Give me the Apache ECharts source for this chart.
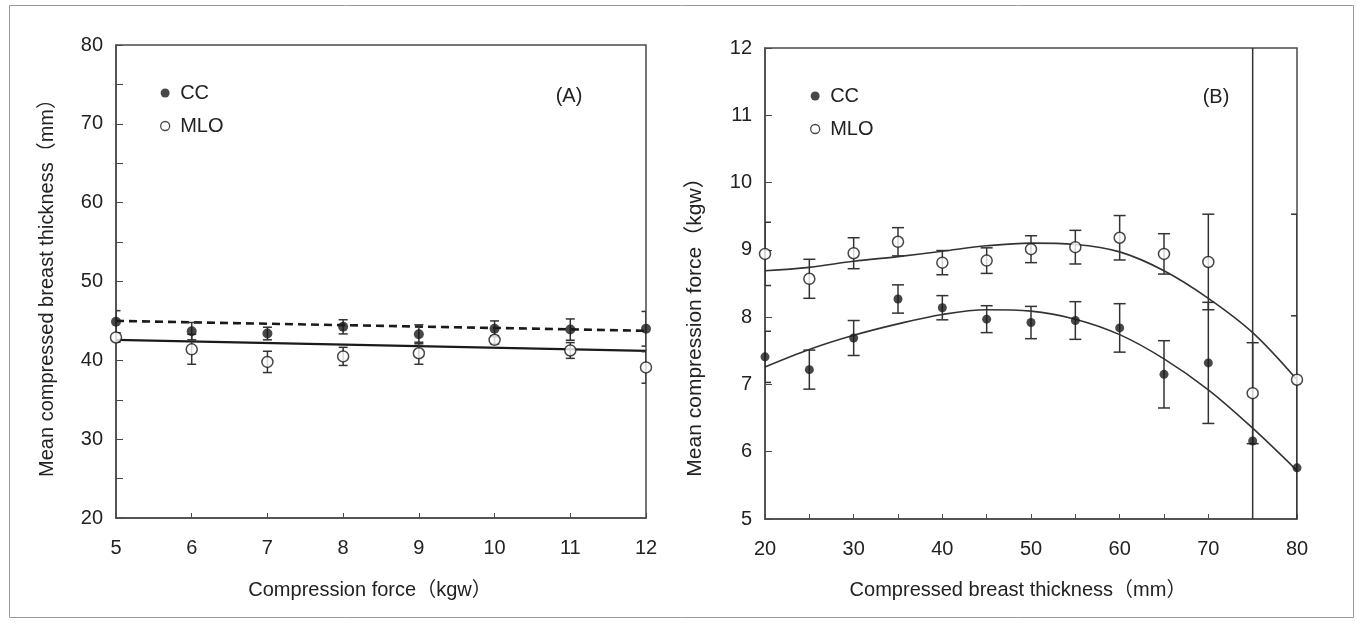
<!DOCTYPE html>
<html>
<head>
<meta charset="utf-8">
<script src="https://cdn.jsdelivr.net/npm/echarts@6/dist/echarts.min.js"></script>
<style>
html,body{margin:0;padding:0;background:#fff;}
#chart{width:1358px;height:624px;}
</style>
</head>
<body>
<div id="chart"></div>
<script>
// ---------- Panel A data ----------
var forceX = [5, 6, 7, 8, 9, 10, 11, 12];
var ccThickMean = [44.9, 43.7, 43.4, 44.25, 43.3, 44.0, 43.9, 44.0];
var ccThickSd = [1.4, 1.1, 0.8, 0.9, 1.2, 1.0, 1.35, 2.2];
var mloThickMean = [42.9, 41.4, 39.8, 40.5, 40.9, 42.6, 41.25, 39.1];
var mloThickSd = [0.6, 1.9, 1.35, 1.15, 1.4, 0.5, 1.0, 2.0];
var fitForceX = [5, 12];
var ccThickFit = [45.0, 43.75];
var mloThickFit = [42.6, 41.2];
var yTicksA = [20, 30, 40, 50, 60, 70, 80];
var xTicksA = [5, 6, 7, 8, 9, 10, 11, 12];

// ---------- Panel B data ----------
var thickX = [20, 25, 30, 35, 40, 45, 50, 55, 60, 65, 70, 75, 80];
var ccForceMean = [7.41, 7.22, 7.69, 8.27, 8.14, 7.97, 7.92, 7.95, 7.84, 7.15, 7.32, 6.16, 5.76];
var ccForceSd = [0.38, 0.29, 0.26, 0.21, 0.18, 0.2, 0.24, 0.28, 0.36, 0.5, 0.9, 7.0, 2.26];
var mloForceMean = [8.94, 8.57, 8.95, 9.12, 8.81, 8.84, 9.01, 9.04, 9.18, 8.94, 8.82, 6.87, 7.07];
var mloForceSd = [0.47, 0.29, 0.23, 0.21, 0.18, 0.19, 0.2, 0.25, 0.33, 0.3, 0.71, 0.75, 2.46];
var ccForceCurve = [7.26, 7.52, 7.73, 7.90, 8.04, 8.11, 8.09, 7.97, 7.74, 7.38, 6.92, 6.35, 5.72];
var mloForceCurve = [8.69, 8.74, 8.83, 8.90, 8.98, 9.06, 9.10, 9.08, 8.97, 8.69, 8.28, 7.77, 7.07];
var yTicksB = [5, 6, 7, 8, 9, 10, 11, 12];
var xTicksB = [20, 30, 40, 50, 60, 70, 80];

var FONT = "'Liberation Sans', 'Noto Sans CJK JP', Arial, sans-serif";
var INK = '#1a1a1a';
var AXC = '#4a4a4a';

function zip(xs, ys) { return xs.map(function (x, i) { return [x, ys[i]]; }); }
function zip3(xs, ys, es) { return xs.map(function (x, i) { return [x, ys[i], es[i]]; }); }

function errRender(cap) {
  return function (params, api) {
    var x = api.value(0), y = api.value(1), e = api.value(2);
    var hi = api.coord([x, y + e]);
    var lo = api.coord([x, y - e]);
    var st = { stroke: '#333', lineWidth: 1.5 };
    return {
      type: 'group',
      children: [
        { type: 'line', shape: { x1: hi[0], y1: hi[1], x2: lo[0], y2: lo[1] }, style: st },
        { type: 'line', shape: { x1: hi[0] - cap, y1: hi[1], x2: hi[0] + cap, y2: hi[1] }, style: st },
        { type: 'line', shape: { x1: lo[0] - cap, y1: lo[1], x2: lo[0] + cap, y2: lo[1] }, style: st }
      ]
    };
  };
}

function makeX(idx, min, max, interval, labels) {
  return {
    type: 'value', gridIndex: idx, min: min, max: max, interval: interval,
    axisLine: { show: true, onZero: false, lineStyle: { color: AXC, width: 1.5 } },
    axisTick: { show: true, inside: true, length: 5, lineStyle: { color: AXC, width: 1 } },
    axisLabel: {
      fontSize: 20, color: '#222', fontFamily: FONT, margin: 20,
      formatter: function (v) { return labels.indexOf(v) >= 0 ? String(v) : ''; }
    },
    splitLine: { show: false }
  };
}
function makeY(idx, min, max, interval, labels) {
  return {
    type: 'value', gridIndex: idx, min: min, max: max, interval: interval,
    axisLine: { show: true, onZero: false, lineStyle: { color: AXC, width: 1.5 } },
    axisTick: { show: true, inside: true, length: 7, lineStyle: { color: AXC, width: 1 } },
    axisLabel: {
      fontSize: 20, color: '#222', fontFamily: FONT, margin: 13,
      formatter: function (v) { return labels.indexOf(v) >= 0 ? String(v) : ''; }
    },
    splitLine: { show: false }
  };
}

var chart = echarts.init(document.getElementById('chart'), null, { renderer: 'canvas' });

var legendCommon = {
  orient: 'vertical', itemWidth: 20, itemHeight: 9, itemGap: 13,
  icon: 'circle', selectedMode: false,
  textStyle: { fontSize: 20, color: '#222', fontFamily: FONT },
  data: [
    { name: 'CC', icon: 'circle', itemStyle: { color: INK, borderWidth: 0 } },
    { name: 'MLO', icon: 'circle', itemStyle: { color: '#fff', borderColor: INK, borderWidth: 1.3 } }
  ]
};

var option = {
  backgroundColor: '#fff',
  animation: false,
  grid: [
    { left: 116, top: 45, width: 530, height: 473, show: true, borderColor: AXC, borderWidth: 1.5, backgroundColor: 'transparent' },
    { left: 765, top: 48, width: 532, height: 471, show: true, borderColor: AXC, borderWidth: 1.5, backgroundColor: 'transparent' }
  ],
  legend: [
    Object.assign({ left: 155, top: 78 }, legendCommon),
    Object.assign({ left: 805, top: 81 }, legendCommon)
  ],
  xAxis: [makeX(0, 5, 12, 1, xTicksA), makeX(1, 20, 80, 5, xTicksB)],
  yAxis: [makeY(0, 20, 80, 5, yTicksA), makeY(1, 5, 12, 1, yTicksB)],
  series: [
    // Panel A
    { type: 'line', name: 'CC fit', xAxisIndex: 0, yAxisIndex: 0, data: zip(fitForceX, ccThickFit), symbol: 'none',
      lineStyle: { color: INK, width: 2.6, type: [8, 5] }, z: 3, silent: true },
    { type: 'line', name: 'MLO fit', xAxisIndex: 0, yAxisIndex: 0, data: zip(fitForceX, mloThickFit), symbol: 'none',
      lineStyle: { color: INK, width: 2.4 }, z: 3, silent: true },
    { type: 'custom', name: 'CC err A', xAxisIndex: 0, yAxisIndex: 0, data: zip3(forceX, ccThickMean, ccThickSd),
      renderItem: errRender(4.5), clip: true, z: 4 },
    { type: 'custom', name: 'MLO err A', xAxisIndex: 0, yAxisIndex: 0, data: zip3(forceX, mloThickMean, mloThickSd),
      renderItem: errRender(4.5), clip: true, z: 4 },
    { type: 'scatter', name: 'CC', xAxisIndex: 0, yAxisIndex: 0, data: zip(forceX, ccThickMean), symbol: 'circle', symbolSize: 10,
      itemStyle: { color: INK }, z: 6 },
    { type: 'scatter', name: 'MLO', xAxisIndex: 0, yAxisIndex: 0, data: zip(forceX, mloThickMean), symbol: 'circle', symbolSize: 11,
      itemStyle: { color: '#fff', borderColor: INK, borderWidth: 1.5 }, z: 6 },
    // Panel B
    { type: 'line', name: 'CC curve', xAxisIndex: 1, yAxisIndex: 1, data: zip(thickX, ccForceCurve), symbol: 'none', smooth: 0.35,
      lineStyle: { color: '#333', width: 1.6 }, z: 3, silent: true },
    { type: 'line', name: 'MLO curve', xAxisIndex: 1, yAxisIndex: 1, data: zip(thickX, mloForceCurve), symbol: 'none', smooth: 0.35,
      lineStyle: { color: '#333', width: 1.6 }, z: 3, silent: true },
    { type: 'custom', name: 'CC err B', xAxisIndex: 1, yAxisIndex: 1, data: zip3(thickX, ccForceMean, ccForceSd),
      renderItem: errRender(6), clip: true, z: 4 },
    { type: 'custom', name: 'MLO err B', xAxisIndex: 1, yAxisIndex: 1, data: zip3(thickX, mloForceMean, mloForceSd),
      renderItem: errRender(6), clip: true, z: 4 },
    { type: 'scatter', name: 'CC', xAxisIndex: 1, yAxisIndex: 1, data: zip(thickX, ccForceMean), symbol: 'circle', symbolSize: 9,
      itemStyle: { color: INK }, z: 6 },
    { type: 'scatter', name: 'MLO', xAxisIndex: 1, yAxisIndex: 1, data: zip(thickX, mloForceMean), symbol: 'circle', symbolSize: 11,
      itemStyle: { color: '#fff', borderColor: INK, borderWidth: 1.5 }, z: 6 }
  ],
  graphic: [
    { type: 'rect', shape: { x: 9.5, y: 5.5, width: 1344, height: 612 }, style: { fill: 'none', stroke: '#9a9a9a', lineWidth: 1 }, silent: true, z: 0 },
    { type: 'text', x: 569, y: 96, style: { text: '(A)', fontSize: 20, fontFamily: FONT, fill: '#222', textAlign: 'center', textVerticalAlign: 'middle' } },
    { type: 'text', x: 1216, y: 97, style: { text: '(B)', fontSize: 20, fontFamily: FONT, fill: '#222', textAlign: 'center', textVerticalAlign: 'middle' } },
    { type: 'text', x: 370, y: 590, style: { text: 'Compression force（kgw）', fontSize: 20, fontFamily: FONT, fill: '#222', textAlign: 'center', textVerticalAlign: 'middle' } },
    { type: 'text', x: 1018, y: 590, style: { text: 'Compressed breast thickness（mm）', fontSize: 20, fontFamily: FONT, fill: '#222', textAlign: 'center', textVerticalAlign: 'middle' } },
    { type: 'text', x: 47, y: 283, rotation: Math.PI / 2, style: { text: 'Mean compressed breast thickness（mm）', fontSize: 20, fontFamily: FONT, fill: '#222', textAlign: 'center', textVerticalAlign: 'middle' } },
    { type: 'text', x: 695, y: 322, rotation: Math.PI / 2, style: { text: 'Mean compression force（kgw）', fontSize: 21, fontFamily: FONT, fill: '#222', textAlign: 'center', textVerticalAlign: 'middle' } }
  ]
};
chart.setOption(option);
</script>
</body>
</html>
